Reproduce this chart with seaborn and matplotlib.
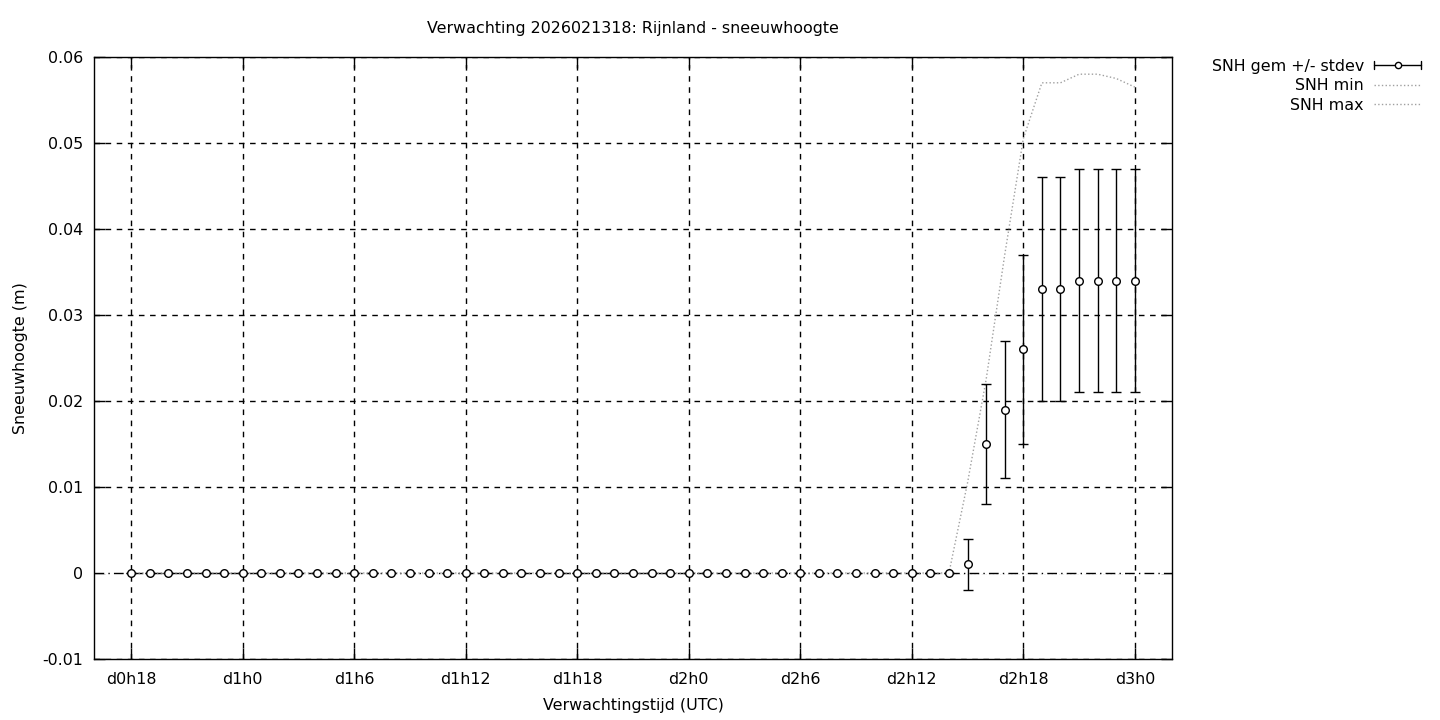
import matplotlib
matplotlib.use("Agg")
import matplotlib.pyplot as plt
import seaborn as sns
import pandas as pd
from matplotlib.lines import Line2D
from matplotlib.legend_handler import HandlerBase

# ---------------- data ----------------
hours = [18, 19, 20, 21, 22, 23, 24, 25, 26, 27, 28, 29, 30, 31, 32, 33, 34, 35,
         36, 37, 38, 39, 40, 41, 42, 43, 44, 45, 46, 47, 48, 49, 50, 51, 52, 53,
         54, 55, 56, 57, 58, 59, 60, 61, 62, 63, 64, 65, 66, 67, 68, 69, 70, 71, 72]
snh_mean = [0, 0, 0, 0, 0, 0, 0, 0, 0, 0, 0, 0, 0, 0, 0, 0, 0, 0,
            0, 0, 0, 0, 0, 0, 0, 0, 0, 0, 0, 0, 0, 0, 0, 0, 0, 0,
            0, 0, 0, 0, 0, 0, 0, 0, 0, 0.001, 0.015, 0.019, 0.026, 0.033, 0.033,
            0.034, 0.034, 0.034, 0.034]
snh_std = [0, 0, 0, 0, 0, 0, 0, 0, 0, 0, 0, 0, 0, 0, 0, 0, 0, 0,
           0, 0, 0, 0, 0, 0, 0, 0, 0, 0, 0, 0, 0, 0, 0, 0, 0, 0,
           0, 0, 0, 0, 0, 0, 0, 0, 0, 0.003, 0.007, 0.008, 0.011, 0.013, 0.013,
           0.013, 0.013, 0.013, 0.013]
snh_min = [0, 0, 0, 0, 0, 0, 0, 0, 0, 0, 0, 0, 0, 0, 0, 0, 0, 0,
           0, 0, 0, 0, 0, 0, 0, 0, 0, 0, 0, 0, 0, 0, 0, 0, 0, 0,
           0, 0, 0, 0, 0, 0, 0, 0, 0, 0, 0, 0, 0, 0, 0, 0, 0, 0, 0]
snh_max = [0, 0, 0, 0, 0, 0, 0, 0, 0, 0, 0, 0, 0, 0, 0, 0, 0, 0,
           0, 0, 0, 0, 0, 0, 0, 0, 0, 0, 0, 0, 0, 0, 0, 0, 0, 0,
           0, 0, 0, 0, 0, 0, 0, 0, 0, 0.0105, 0.0225, 0.037, 0.0505, 0.057, 0.057,
           0.058, 0.058, 0.0575, 0.0565]
xtick_hours = [18, 24, 30, 36, 42, 48, 54, 60, 66, 72]
xtick_labels = ["d0h18", "d1h0", "d1h6", "d1h12", "d1h18", "d2h0", "d2h6",
                "d2h12", "d2h18", "d3h0"]
ytick_values = [-0.01, 0, 0.01, 0.02, 0.03, 0.04, 0.05, 0.06]
ytick_labels = ["-0.01", "0", "0.01", "0.02", "0.03", "0.04", "0.05", "0.06"]

title = "Verwachting 2026021318: Rijnland - sneeuwhoogte"
xlabel = "Verwachtingstijd (UTC)"
ylabel = "Sneeuwhoogte (m)"

df = pd.DataFrame({"uur": hours, "gem": snh_mean, "std": snh_std,
                   "min": snh_min, "max": snh_max})

# ---------------- style ----------------
sns.set_theme(style="white")
plt.rcParams["font.family"] = ["DejaVu Sans"]
plt.rcParams["axes.edgecolor"] = "black"
plt.rcParams["axes.linewidth"] = 1.0
plt.rcParams["text.color"] = "black"
plt.rcParams["axes.labelcolor"] = "black"
plt.rcParams["xtick.color"] = "black"
plt.rcParams["ytick.color"] = "black"

FS = 11.4
fig = plt.figure(figsize=(14.4, 7.2), dpi=100)
ax = fig.add_axes([94 / 1440, 1 - 659 / 720, (1172 - 94) / 1440, (659 - 57) / 720])

GRAY = "#a0a0a0"

# grid
for xv in xtick_hours:
    ax.axvline(xv, color="black", lw=1.0, ls=(0, (4, 4)), zorder=1)
for yv in ytick_values:
    if yv != 0:
        ax.axhline(yv, color="black", lw=1.0, ls=(0, (4, 4)), zorder=1)

# min / max lines
sns.lineplot(data=df, x="uur", y="min", ax=ax, color=GRAY, lw=1.0,
             linestyle=":", zorder=1.2, legend=False)
sns.lineplot(data=df, x="uur", y="max", ax=ax, color=GRAY, lw=1.0,
             linestyle=":", zorder=2, legend=False)

# zero axis (drawn over the min line)
ax.axhline(0, color="white", lw=1.6, zorder=1.5)
ax.axhline(0, color="black", lw=1.0, ls=(0, (7, 3, 1, 3)), zorder=1.6)

# error bars
ax.errorbar(df["uur"], df["gem"], yerr=df["std"], fmt="none", ecolor="black",
            elinewidth=1.0, capsize=3.6, capthick=1.0, zorder=3)
sns.scatterplot(data=df, x="uur", y="gem", ax=ax, marker="o", s=30,
                facecolor="white", edgecolor="black", linewidth=1.0, zorder=4,
                legend=False)

ax.set_xlim(16, 74)
ax.set_ylim(-0.01, 0.06)
ax.set_xticks(xtick_hours)
ax.set_xticklabels(xtick_labels, fontsize=FS)
ax.set_yticks(ytick_values)
ax.set_yticklabels(ytick_labels, fontsize=FS)
ax.tick_params(direction="in", length=8, width=1, top=True, right=True,
               bottom=True, left=True, colors="black")
ax.tick_params(axis="x", pad=9)
ax.tick_params(axis="y", pad=8)
ax.set_xlabel(xlabel, fontsize=FS, labelpad=8)
ax.set_ylabel(ylabel, fontsize=FS, labelpad=10)
for s in ax.spines.values():
    s.set_visible(True)
    s.set_color("black")

fig.text(633 / 1440, 1 - 29 / 720, title, ha="center", va="center", fontsize=FS)


# legend
class ErrorbarHandler(HandlerBase):
    def create_artists(self, legend, orig_handle, xdescent, ydescent, width,
                       height, fontsize, trans):
        y = height / 2 - ydescent
        x0 = -xdescent
        x1 = -xdescent + width
        cap = height * 0.35
        arts = [
            Line2D([x0, x1], [y, y], color="black", lw=1.0),
            Line2D([x0, x0], [y - cap, y + cap], color="black", lw=1.0),
            Line2D([x1, x1], [y - cap, y + cap], color="black", lw=1.0),
            Line2D([(x0 + x1) / 2], [y], marker="o", markersize=4.5,
                   markerfacecolor="white", markeredgecolor="black", lw=0),
        ]
        for a in arts:
            a.set_transform(trans)
        return arts


h_gem = Line2D([], [], color="black")
h_min = Line2D([], [], color=GRAY, lw=1.0, ls=":")
h_max = Line2D([], [], color=GRAY, lw=1.0, ls=":")
fig.legend([h_gem, h_min, h_max], ["SNH gem +/- stdev", "SNH min", "SNH max"],
           handler_map={h_gem: ErrorbarHandler()},
           loc="upper right", bbox_to_anchor=(1421 / 1440, 1 - 58.5 / 720),
           markerfirst=False, frameon=False, fontsize=FS, handlelength=2.95,
           handletextpad=0.65, labelspacing=0.3, borderpad=0, borderaxespad=0)

fig.savefig("out.png", dpi=100)
